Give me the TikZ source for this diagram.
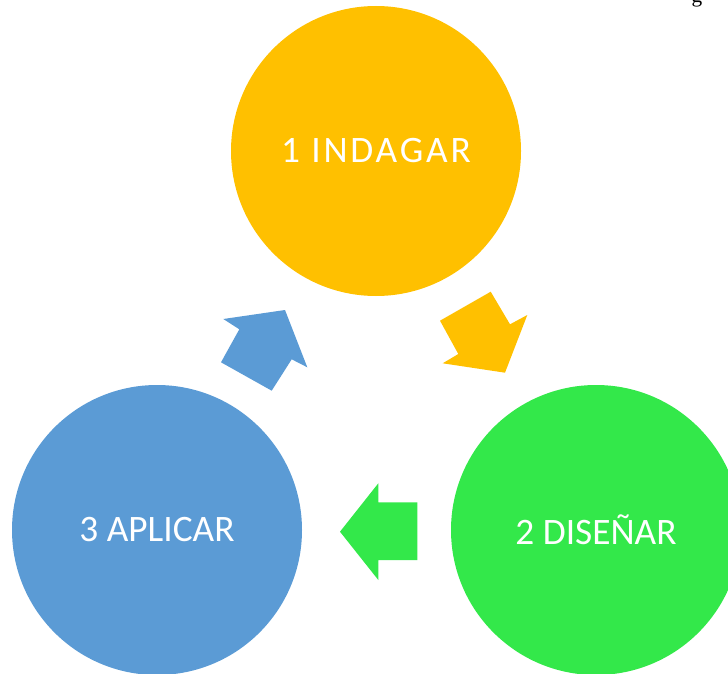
\documentclass[tikz,border=0pt]{standalone}
\usepackage{fontspec}
\setmainfont{Carlito}
\newfontfamily\serifg{Liberation Serif}
\newfontfamily\widecarlito[LetterSpace=7.5]{Carlito}
\definecolor{cyellow}{HTML}{FFC000}
\definecolor{cgreen}{HTML}{33E84A}
\definecolor{cblue}{HTML}{5B9BD5}
\begin{document}
\begin{tikzpicture}[x=0.75pt,y=-0.75pt,
  stage/.style={circle,minimum size=217.5pt,inner sep=0pt,text=white,font=\fontsize{28}{34}\selectfont}]
\useasboundingbox (0,0) rectangle (728,674);
\node[stage,fill=cyellow] (ind) at (376,151) {\widecarlito\fontsize{28}{34}\selectfont 1 INDAGAR};
\node[stage,fill=cgreen] (dis) at (596,530) {2 DISEÑAR};
\node[stage,fill=cblue] (apl) at (157,530) {3 APLICAR};
\node[anchor=base,inner sep=0pt,font=\serifg\fontsize{16}{19}\selectfont] (frag) at (697,3) {g};
% yellow arrow (1 -> 2)
\fill[cyellow] (440,320.7) -- (490.7,291.7) -- (510,324.3) -- (527.3,315) -- (505,372.7) -- (442.7,363.3) -- (458.3,354) -- cycle;
% green arrow (2 -> 3)
\fill[cgreen] (417.3,502.3) -- (378.3,502.3) -- (378.3,483.3) -- (340,531.7) -- (378.3,580) -- (378.3,560) -- (417.3,560) -- cycle;
% blue arrow (3 -> 1)
\fill[cblue] (221,362.3) -- (239.3,329.3) -- (223.3,319) -- (285,310) -- (307.3,367.3) -- (291.7,359.3) -- (271.7,390.7) -- cycle;
\end{tikzpicture}
\end{document}
